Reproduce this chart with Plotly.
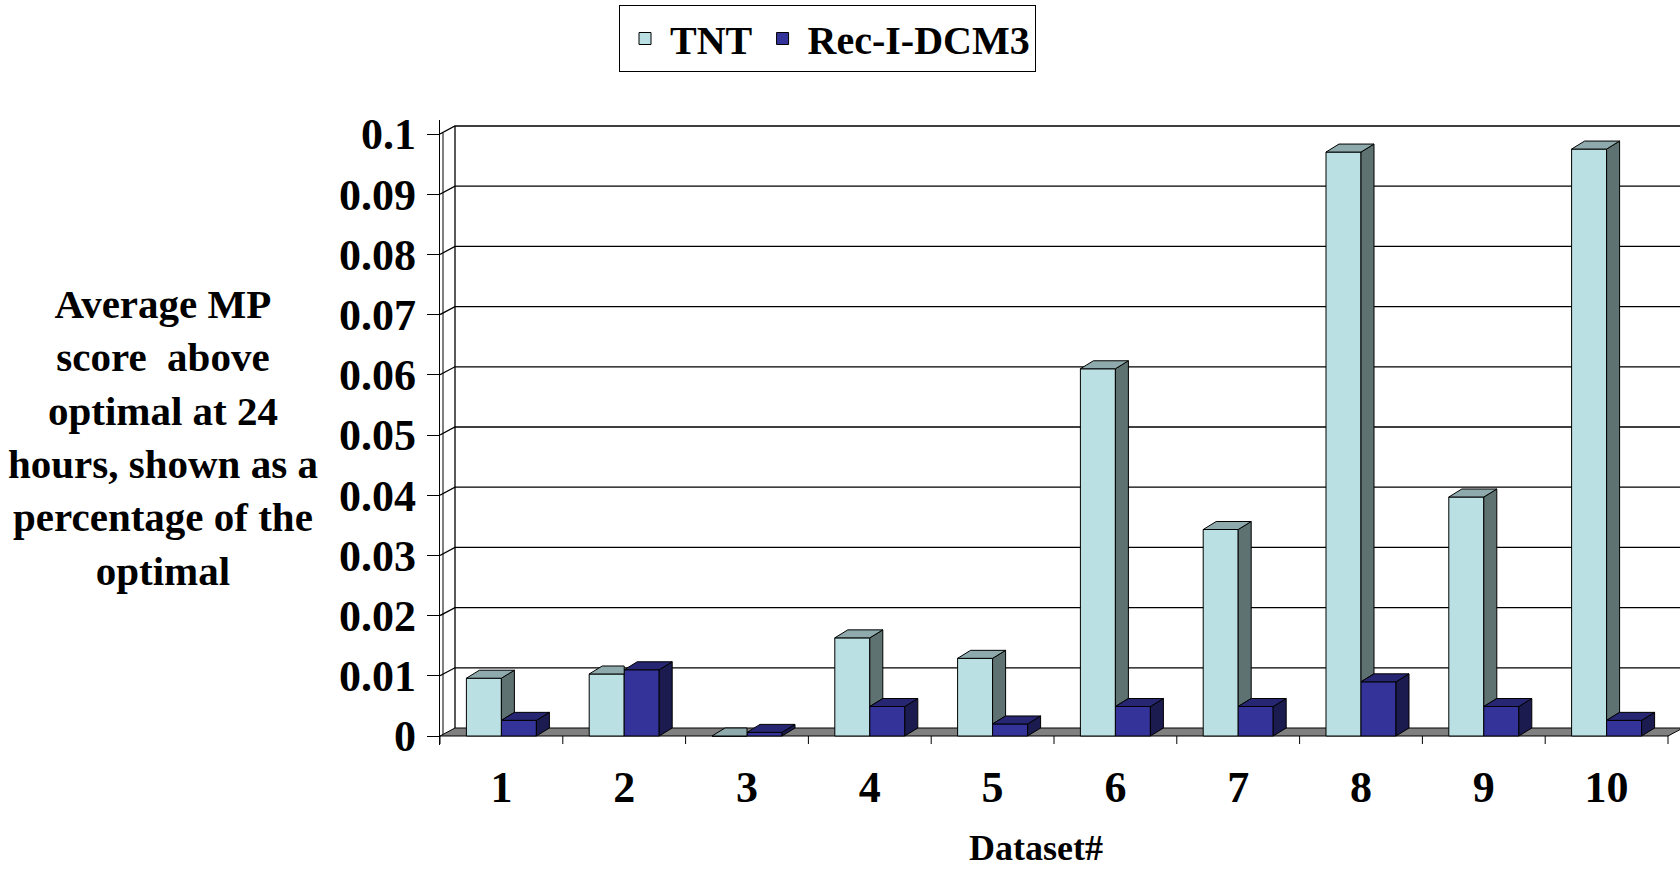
import plotly.graph_objects as go

# ---- data -------------------------------------------------------------
datasets = list(range(1, 11))
dataset_labels = [str(d) for d in datasets]
tnt = [0.0096, 0.0103, 0.0, 0.0163, 0.0129, 0.061, 0.0343, 0.097, 0.0397, 0.0975]
rec = [0.0026, 0.011, 0.0006, 0.0049, 0.002, 0.0049, 0.0049, 0.009, 0.0049, 0.0026]
y_ticks = [0, 0.01, 0.02, 0.03, 0.04, 0.05, 0.06, 0.07, 0.08, 0.09, 0.1]
y_tick_text = ["0", "0.01", "0.02", "0.03", "0.04", "0.05", "0.06", "0.07", "0.08", "0.09", "0.1"]

# ---- geometry ---------------------------------------------------------
W, H = 1680, 870
ML, MR, MT, MB = 440, 0, 120, 125
PX_PER_X = 122.8          # pixels per category
PX_PER_Y = 6020.0         # pixels per unit of value
ZERO_PAD = 9              # pixels below the front floor edge
X_RANGE = [0.5, 0.5 + (W - ML - MR) / PX_PER_X]
Y_RANGE = [-ZERO_PAD / PX_PER_Y, (H - MT - MB - ZERO_PAD) / PX_PER_Y]

WALL_DX, WALL_DY = 15 / PX_PER_X, 8 / PX_PER_Y   # depth of the chart box
BAR_DX, BAR_DY = 13 / PX_PER_X, 8 / PX_PER_Y     # depth of each column
BAR_W = 35 / PX_PER_X

FONT = "Liberation Serif, Times New Roman, serif"

TNT_COL = dict(front="#BBE0E3", top="#8FAAAC", side="#5F7272")
REC_COL = dict(front="#333399", top="#262673", side="#1B1B4F")

fig = go.Figure()

# front faces of the columns
fig.add_trace(go.Bar(
    x=datasets, y=tnt, name="TNT", width=BAR_W, offset=-BAR_W,
    marker=dict(color=TNT_COL["front"], line=dict(color="#000000", width=1)),
))
fig.add_trace(go.Bar(
    x=datasets, y=rec, name="Rec-I-DCM3", width=BAR_W, offset=0,
    marker=dict(color=REC_COL["front"], line=dict(color="#000000", width=1)),
))


def face(xs, ys, color):
    fig.add_trace(go.Scatter(
        x=xs + [xs[0]], y=ys + [ys[0]], mode="lines", fill="toself",
        fillcolor=color, line=dict(color="#000000", width=1),
        showlegend=False, hoverinfo="skip",
    ))


# side and top faces: TNT first, then Rec-I-DCM3 in front of it
for d, vt, vr in zip(datasets, tnt, rec):
    x0, x1 = d - BAR_W, d
    # TNT side face, hidden below the neighbouring Rec-I-DCM3 column
    if vt > vr:
        face([x1, x1 + BAR_DX, x1 + BAR_DX, x1],
             [vr, vr + BAR_DY, vt + BAR_DY, vt], TNT_COL["side"])
        face([x0, x1, x1 + BAR_DX, x0 + BAR_DX],
             [vt, vt, vt + BAR_DY, vt + BAR_DY], TNT_COL["top"])
    else:
        face([x0, x1, x1, x0 + BAR_DX],
             [vt, vt, vt + BAR_DY, vt + BAR_DY], TNT_COL["top"])

for d, vr in zip(datasets, rec):
    x0, x1 = d, d + BAR_W
    face([x1, x1 + BAR_DX, x1 + BAR_DX, x1],
         [0, BAR_DY, vr + BAR_DY, vr], REC_COL["side"])
    face([x0, x1, x1 + BAR_DX, x0 + BAR_DX],
         [vr, vr, vr + BAR_DY, vr + BAR_DY], REC_COL["top"])

# ---- chart box: walls, gridlines, floor -------------------------------
shapes = []
x_left, x_right = 0.5, 10.5
x_far = X_RANGE[1] + 1
line_k = dict(color="#000000", width=1.3)

for v in y_ticks[1:]:
    shapes.append(dict(
        type="path", layer="below", xref="x", yref="y",
        path=f"M{x_left},{v} L{x_left + WALL_DX},{v + WALL_DY} L{x_far},{v + WALL_DY}",
        line=line_k,
    ))

# left wall edges
shapes.append(dict(type="line", layer="below", xref="x", yref="y",
                   x0=x_left + WALL_DX, x1=x_left + WALL_DX,
                   y0=WALL_DY, y1=y_ticks[-1] + WALL_DY, line=line_k))
shapes.append(dict(type="line", layer="below", xref="x", yref="y",
                   x0=x_left + 3 / PX_PER_X, x1=x_left + 3 / PX_PER_X,
                   y0=1 / PX_PER_Y, y1=y_ticks[-1] + 1 / PX_PER_Y,
                   line=dict(color="#000000", width=1)))

# floor
shapes.append(dict(
    type="path", layer="below", xref="x", yref="y",
    path=(f"M{x_left},0 L{x_right},0 L{x_right + WALL_DX},{WALL_DY} "
          f"L{x_left + WALL_DX},{WALL_DY} Z"),
    fillcolor="#808080", line=dict(color="#000000", width=1),
))

# category dividers below the floor
for d in datasets + [0]:
    xb = d + 0.5
    shapes.append(dict(type="line", layer="below", xref="x", yref="y",
                       x0=xb, x1=xb, y0=0, y1=-8 / PX_PER_Y,
                       line=dict(color="#000000", width=1)))

annotations = [
    dict(text=("Average MP<br>score\u00a0 above<br>optimal at 24<br>"
               "hours, shown as a<br>percentage of the<br>optimal"),
         xref="paper", yref="paper",
         x=(163 - ML) / (W - ML - MR), y=(H - MB - 438) / (H - MT - MB),
         xanchor="center", yanchor="middle", showarrow=False, align="center",
         font=dict(family=FONT, size=41, color="#000000", weight="bold")),
    dict(text="Dataset#", xref="paper", yref="paper",
         x=(1036 - ML) / (W - ML - MR), y=-(848 - (H - MB)) / (H - MT - MB),
         xanchor="center", yanchor="middle", showarrow=False,
         font=dict(family=FONT, size=36, color="#000000", weight="bold")),
]

fig.update_layout(
    width=W, height=H,
    margin=dict(l=ML, r=MR, t=MT, b=MB, autoexpand=False),
    paper_bgcolor="#FFFFFF", plot_bgcolor="#FFFFFF",
    barmode="overlay",
    shapes=shapes, annotations=annotations,
    showlegend=True,
    legend=dict(
        orientation="h", xref="container", yref="container",
        x=619 / W, y=1 - 5 / H, xanchor="left", yanchor="top",
        bgcolor="#FFFFFF", bordercolor="#000000", borderwidth=1,
        itemwidth=40,
        font=dict(family=FONT, size=40, color="#000000", weight="bold"),
        traceorder="normal",
    ),
    xaxis=dict(
        range=X_RANGE, tickmode="array", tickvals=datasets, ticktext=dataset_labels,
        showgrid=False, zeroline=False, showline=False, ticks="",
        ticklabelstandoff=12,
        tickfont=dict(family=FONT, size=44, color="#000000", weight="bold"),
    ),
    yaxis=dict(
        range=Y_RANGE, tickmode="array", tickvals=y_ticks, ticktext=y_tick_text,
        showgrid=False, zeroline=False, showline=True, linecolor="#000000",
        linewidth=1.3, ticks="outside", ticklen=12, tickcolor="#000000",
        ticklabelstandoff=2,
        tickfont=dict(family=FONT, size=44, color="#000000", weight="bold"),
    ),
)

fig.write_html("out.html")
